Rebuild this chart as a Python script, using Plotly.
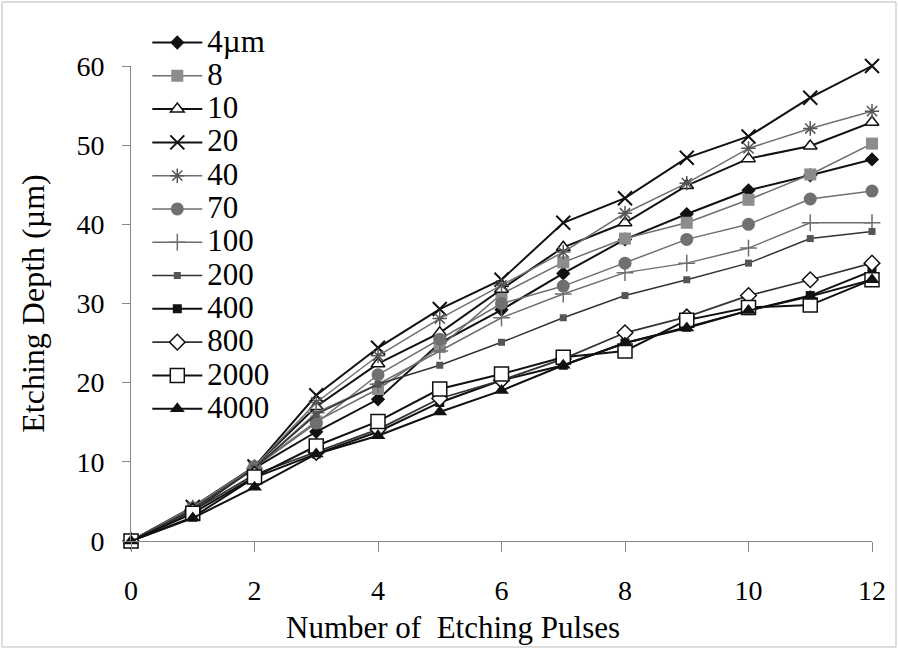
import plotly.graph_objects as go

pulses = list(range(13))
names = ["4µm", "8", "10", "20", "40", "70", "100", "200", "400", "800", "2000", "4000"]

d4 = [0, 3.8, 9.2, 13.8, 17.9, 25.0, 29.2, 33.8, 38.1, 41.3, 44.3, 46.2, 48.2]
d8 = [0, 4.2, 9.4, 15.1, 19.2, 24.5, 31.2, 35.2, 38.2, 40.2, 43.1, 46.3, 50.2]
d10 = [0, 4.2, 9.4, 17.0, 22.4, 26.3, 31.8, 37.1, 40.2, 44.9, 48.3, 49.9, 52.9]
d20 = [0, 4.3, 9.4, 18.4, 24.4, 29.3, 33.0, 40.2, 43.3, 48.4, 51.1, 56.0, 60.0]
d40 = [0, 4.3, 9.4, 17.5, 23.4, 28.1, 32.3, 36.5, 41.4, 45.2, 49.6, 52.1, 54.3]
d70 = [0, 4.0, 9.3, 14.9, 21.0, 25.5, 30.0, 32.2, 35.1, 38.1, 40.0, 43.2, 44.2]
d100 = [0, 4.0, 9.2, 16.2, 19.8, 24.0, 28.2, 31.2, 33.9, 35.1, 37.0, 40.2, 40.2]
d200 = [0, 4.0, 9.2, 16.0, 19.8, 22.2, 25.1, 28.2, 31.0, 33.0, 35.1, 38.2, 39.1]
d400 = [0, 3.0, 8.0, 11.0, 13.8, 17.5, 20.3, 22.2, 25.0, 27.0, 29.1, 31.0, 34.1]
d800 = [0, 3.8, 8.4, 11.2, 14.1, 18.0, 20.3, 23.0, 26.3, 28.3, 31.0, 33.0, 35.1]
d2000 = [0, 3.5, 8.1, 12.0, 15.1, 19.2, 21.1, 23.2, 24.0, 27.9, 29.5, 29.8, 33.0]
d4000 = [0, 2.9, 6.8, 11.0, 13.3, 16.3, 19.0, 22.2, 25.0, 26.9, 29.1, 30.9, 33.0]
series = [d4, d8, d10, d20, d40, d70, d100, d200, d400, d800, d2000, d4000]

x_ticks = [0, 2, 4, 6, 8, 10, 12]
y_ticks = [0, 10, 20, 30, 40, 50, 60]
x_title = "Number of  Etching Pulses"
y_title = "Etching Depth (µm)"

BLK = "#111111"
GRY = "#6f6f6f"
styles = [
    dict(line=dict(color=BLK, width=2), marker=dict(symbol="diamond", size=11, color=BLK)),
    dict(line=dict(color=GRY, width=1.5), marker=dict(symbol="square", size=12, color="#8c8c8c")),
    dict(line=dict(color=BLK, width=2), marker=dict(symbol="triangle-up", size=12, color="white", line=dict(color=BLK, width=1.5))),
    dict(line=dict(color=BLK, width=2), marker=dict(symbol="x-thin-open", size=14, color=BLK, line=dict(color=BLK, width=2))),
    dict(line=dict(color=GRY, width=1.5), marker=dict(symbol="asterisk-open", size=12, color="#555555", line=dict(color="#555555", width=1.5))),
    dict(line=dict(color=GRY, width=1.5), marker=dict(symbol="circle", size=13, color="#707070")),
    dict(line=dict(color=GRY, width=1.5), marker=dict(symbol="cross-thin-open", size=12, color=GRY, line=dict(color=GRY, width=1.5))),
    dict(line=dict(color="#333333", width=1.5), marker=dict(symbol="square", size=7, color="#555555")),
    dict(line=dict(color=BLK, width=2), marker=dict(symbol="square", size=9, color=BLK)),
    dict(line=dict(color="#333333", width=1.8), marker=dict(symbol="diamond", size=12, color="white", line=dict(color=BLK, width=1.5))),
    dict(line=dict(color=BLK, width=2), marker=dict(symbol="square", size=14, color="white", line=dict(color=BLK, width=1.5))),
    dict(line=dict(color=BLK, width=2), marker=dict(symbol="triangle-up", size=13, color=BLK)),
]

fig = go.Figure()
for name, ys, st in zip(names, series, styles):
    fig.add_trace(go.Scatter(
        x=pulses, y=ys, mode="lines+markers",
        name="<span style='font-size:31px'>" + name + "</span>",
        cliponaxis=False, **st))

FONT = "Liberation Serif"
W, H = 898, 649
L, R, T, B = 131, 26, 66, 108
pw, ph = W - L - R, H - T - B

fig.update_layout(
    template="none",
    width=W, height=H,
    margin=dict(l=L, r=R, t=T, b=B, autoexpand=False),
    paper_bgcolor="white", plot_bgcolor="white",
    font=dict(family=FONT, color="black", size=28),
    legend=dict(x=0.022, y=1.095, xanchor="left", yanchor="top", itemwidth=50,
                font=dict(family=FONT, size=23.3, color="black"),
                bgcolor="rgba(0,0,0,0)", borderwidth=0, maxheight=640),
    xaxis=dict(range=[0, 12], tickvals=x_ticks, showgrid=False, zeroline=False,
               showline=True, linecolor="#888888", linewidth=1,
               ticks="outside", ticklen=10, tickcolor="#888888",
               ticklabelstandoff=14, automargin=False,
               tickfont=dict(family=FONT, size=28)),
    yaxis=dict(range=[0, 60], tickvals=y_ticks, showgrid=False, zeroline=False,
               showline=True, linecolor="#888888", linewidth=1,
               ticks="outside", ticklen=8, tickcolor="#888888",
               ticklabelstandoff=12, automargin=False,
               tickfont=dict(family=FONT, size=28),
               title=dict(text=y_title, font=dict(family=FONT, size=32), standoff=22)),
    annotations=[dict(text=x_title, xref="paper", yref="paper",
                      x=(453 - L) / pw, y=-(627 - T - ph) / ph,
                      xanchor="center", yanchor="middle", showarrow=False,
                      font=dict(family=FONT, size=31, color="black"))],
    shapes=[dict(type="rect", xref="paper", yref="paper",
                 x0=(2 - L) / pw, x1=(W - 2 - L) / pw,
                 y0=-(H - 2 - T - ph) / ph, y1=(T - 2) / ph + 1,
                 line=dict(color="#bbbbbb", width=1), layer="below")],
)

fig.write_html("out.html")
